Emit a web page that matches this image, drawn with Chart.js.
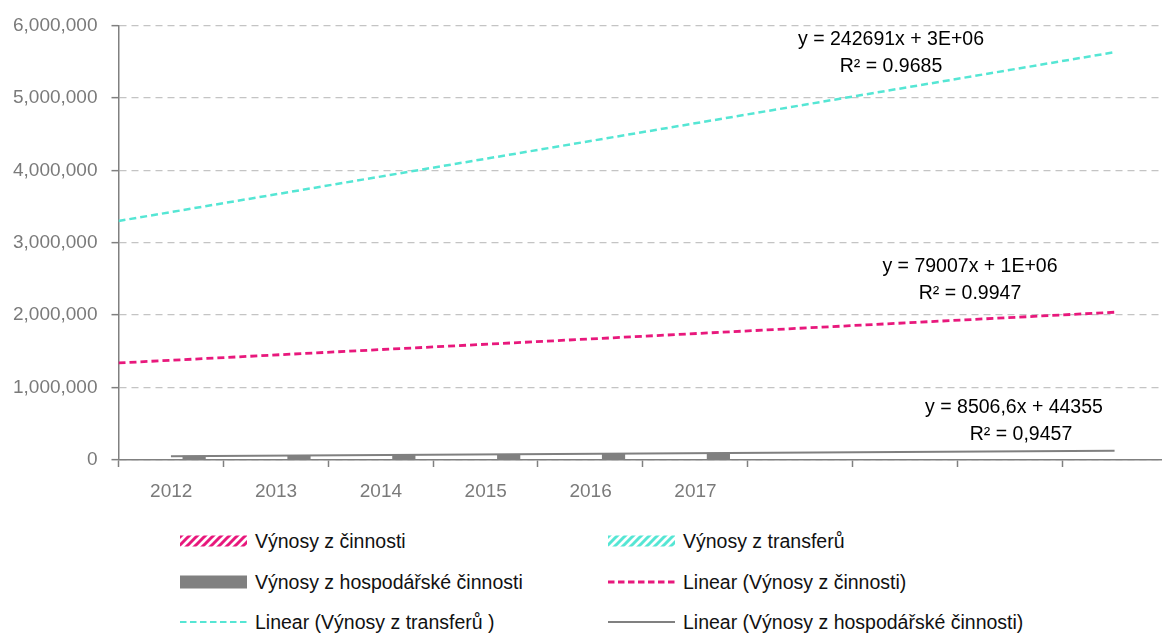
<!DOCTYPE html>
<html>
<head>
<meta charset="utf-8">
<script src="https://cdn.jsdelivr.net/npm/chart.js@4.4.1/dist/chart.umd.min.js"></script>
<style>
  body { margin: 0; width: 1162px; height: 637px; overflow: hidden; background: #fff; font-family: "Liberation Sans", Arial, sans-serif; }
  #wrap { position: absolute; left: 0; top: 0; width: 1162px; height: 520px; overflow: hidden; }
  .item { position: absolute; display: flex; align-items: center; height: 24px; font-size: 19.5px; color: #111; white-space: nowrap; }
  .item canvas { margin-right: 8px; }
</style>
</head>
<body>
<div id="wrap"><canvas id="chart" width="1180" height="520"></canvas></div>
<div id="legend"></div>
<script>
// categories (the axis runs on past 2017 with empty slots)
const years = ["2012", "2013", "2014", "2015", "2016", "2017", "", "", "", ""];

// bar series - the first two don't show up in the picture
const vynosyCinnosti = [null, null, null, null, null, null];
const vynosyTransfery = [null, null, null, null, null, null];
const vynosyHosp = [60000, 66000, 72000, 82000, 90000, 100000];

// trend line ends (x = category index)
const trendCinnostiX = [-0.5, 9];
const trendCinnostiY = [1340000, 2040000];
const trendTransferyX = [-0.5, 9];
const trendTransferyY = [3300000, 5630000];
const trendHospX = [0, 9];
const trendHospY = [53000, 129000];

const yTicks = [0, 1000000, 2000000, 3000000, 4000000, 5000000, 6000000];

const equations = [
  ["y = 242691x + 3E+06", "R² = 0.9685"],
  ["y = 79007x + 1E+06", "R² = 0.9947"],
  ["y = 8506,6x + 44355", "R² = 0,9457"]
];

const PINK = "#e8187c";
const CYAN = "#55e6d4";
const GREY = "#808080";
const FONT = "'Liberation Sans', Arial, sans-serif";

const CANVAS_W = 1180, AXIS_W = 118.5, PAD_R = 7.5;
const slotPx = (CANVAS_W - AXIS_W - PAD_R) / years.length;

function hatch(color) {
  const c = document.createElement("canvas");
  c.width = 8; c.height = 8;
  const g = c.getContext("2d");
  g.fillStyle = "#fff";
  g.fillRect(0, 0, 8, 8);
  g.strokeStyle = color;
  g.lineWidth = 3;
  g.beginPath();
  g.moveTo(0, 8); g.lineTo(8, 0);
  g.moveTo(-4, 4); g.lineTo(4, -4);
  g.moveTo(4, 12); g.lineTo(12, 4);
  g.stroke();
  return c;
}

function pts(xs, ys) {
  return xs.map((x, i) => ({ x: x, y: ys[i] }));
}
function byIndex(vals) {
  return vals.map((v, i) => ({ x: i, y: v }));
}

const ctx = document.getElementById("chart").getContext("2d");
const pinkHatch = ctx.createPattern(hatch(PINK), "repeat");
const cyanHatch = ctx.createPattern(hatch(CYAN), "repeat");

// equation boxes (centre of each text line)
const eqPos = [
  [[891, 40], [891, 67]],
  [[970, 267], [970, 294]],
  [[1014, 408], [1021, 435]]
];

const eqPlugin = {
  id: "eq",
  afterDraw(chart) {
    const c = chart.ctx;
    c.save();
    c.font = "19.5px " + FONT;
    c.fillStyle = "#000";
    c.textAlign = "center";
    c.textBaseline = "middle";
    equations.forEach((lines, i) => {
      lines.forEach((t, j) => c.fillText(t, eqPos[i][j][0], eqPos[i][j][1]));
    });
    c.restore();
  }
};

// slot edges for the tick marks; the year label is pushed half a slot right
const slotEdges = years.map((y, i) => i - 0.5).concat([years.length - 0.5]);

const chart = new Chart(ctx, {
  type: "bar",
  data: {
    datasets: [
      { label: "Výnosy z činnosti", data: byIndex(vynosyCinnosti), backgroundColor: pinkHatch, order: 3 },
      { label: "Výnosy z transferů", data: byIndex(vynosyTransfery), backgroundColor: cyanHatch, order: 3 },
      { label: "Výnosy z hospodářské činnosti", data: byIndex(vynosyHosp), backgroundColor: GREY, order: 3 },
      { type: "line", label: "Linear (Výnosy z činnosti)", data: pts(trendCinnostiX, trendCinnostiY),
        borderColor: PINK, borderWidth: 2.8, borderDash: [7, 4], pointRadius: 0, order: 1 },
      { type: "line", label: "Linear (Výnosy z transferů )", data: pts(trendTransferyX, trendTransferyY),
        borderColor: CYAN, borderWidth: 2.5, borderDash: [7, 4], pointRadius: 0, order: 1 },
      { type: "line", label: "Linear (Výnosy z hospodářské činnosti)", data: pts(trendHospX, trendHospY),
        borderColor: GREY, borderWidth: 2, pointRadius: 0, order: 1 }
    ]
  },
  options: {
    responsive: false,
    animation: false,
    layout: { padding: { top: 25, right: PAD_R, left: 0, bottom: 0 } },
    datasets: { bar: { categoryPercentage: 0.664, barPercentage: 1 } },
    plugins: { legend: { display: false }, tooltip: { enabled: false } },
    scales: {
      x: {
        type: "linear",
        min: -0.5,
        max: years.length - 0.5,
        offset: false,
        afterBuildTicks(s) { s.ticks = slotEdges.map(v => ({ value: v })); },
        grid: { offset: false, drawOnChartArea: false, tickLength: 7, tickColor: GREY, tickWidth: 1.5 },
        border: { color: GREY, width: 1.5 },
        ticks: { color: "#7a7a7a", font: { size: 19, family: FONT }, padding: 13, maxRotation: 0, autoSkip: false,
          labelOffset: slotPx / 2,
          callback: v => years[Math.round(v + 0.5)] || "" },
        afterFit(s) { s.height = 60; }
      },
      y: {
        min: 0,
        max: 6000000,
        afterBuildTicks(s) { s.ticks = yTicks.map(v => ({ value: v })); },
        grid: { color: "#c4c4c4", lineWidth: 1.3, tickLength: 7, tickColor: GREY, tickWidth: 1.5, tickBorderDash: [] },
        border: { color: GREY, width: 1.5, dash: [7, 5] },
        ticks: { color: "#7a7a7a", font: { size: 19, family: FONT }, padding: 14,
          callback: v => v.toLocaleString("en-US") },
        afterFit(s) { s.width = AXIS_W; }
      }
    }
  },
  plugins: [eqPlugin]
});

// legend: two columns, three rows
const legendCols = [180, 608];
const legendRows = [541, 582, 622];
const markers = [
  { kind: "hatch", pat: hatch(PINK), h: 11 },
  { kind: "hatch", pat: hatch(CYAN), h: 11 },
  { kind: "fill", color: GREY, h: 13 },
  { kind: "line", color: PINK, w: 2.8, dash: [6.5, 3.5] },
  { kind: "line", color: CYAN, w: 2.2, dash: [6.5, 3.5] },
  { kind: "line", color: GREY, w: 2, dash: [] }
];
const legendDiv = document.getElementById("legend");
chart.data.datasets.forEach((ds, i) => {
  const item = document.createElement("div");
  item.className = "item";
  item.style.left = legendCols[i % 2] + "px";
  item.style.top = (legendRows[Math.floor(i / 2)] - 12) + "px";
  const m = document.createElement("canvas");
  m.width = 67; m.height = 24;
  const g = m.getContext("2d");
  const mk = markers[i];
  if (mk.kind === "hatch") {
    g.fillStyle = g.createPattern(mk.pat, "repeat");
    g.fillRect(0, 12 - mk.h / 2, 67, mk.h);
  } else if (mk.kind === "fill") {
    g.fillStyle = mk.color;
    g.fillRect(0, 12 - mk.h / 2, 67, mk.h);
  } else {
    g.strokeStyle = mk.color;
    g.lineWidth = mk.w;
    g.setLineDash(mk.dash);
    g.beginPath(); g.moveTo(0, 12); g.lineTo(67, 12); g.stroke();
  }
  item.appendChild(m);
  const t = document.createElement("span");
  t.textContent = ds.label;
  item.appendChild(t);
  legendDiv.appendChild(item);
});
</script>
</body>
</html>
